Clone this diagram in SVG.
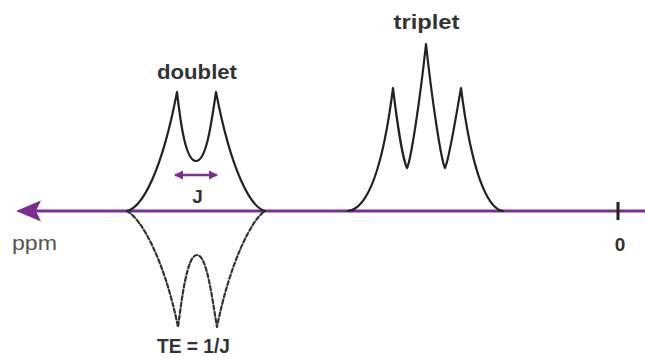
<svg xmlns="http://www.w3.org/2000/svg" width="645" height="358" viewBox="0 0 645 358">
  <defs>
    <marker id="jhead" viewBox="0 0 10 10" refX="9" refY="5" markerWidth="9" markerHeight="10" markerUnits="userSpaceOnUse" orient="auto-start-reverse">
      <path d="M0,0 L10,5 L0,10 Z" fill="#7a2f8f"/>
    </marker>
    <style>
      .curve { fill: none; stroke: #222; stroke-width: 2.2; stroke-linejoin: round; stroke-linecap: round; }
      .dashed { stroke-dasharray: 4 2.5; stroke: #333; }
      .axis { stroke: #7a2f8f; stroke-width: 3; fill: none; }
      .lbl { font-family: "Liberation Sans", Arial, sans-serif; font-weight: bold; fill: #333; }
      .ppm { font-family: "Liberation Sans", Arial, sans-serif; fill: #555; }
    </style>
  </defs>
  <rect width="645" height="358" fill="#fff"/>

  <g id="connectors">
    <line class="axis" x1="30" y1="211" x2="645" y2="211"/>
    <path d="M16,211 L41,200.5 L36,211 L41,221.5 Z" fill="#7a2f8f"/>
    <line x1="175" y1="175" x2="217" y2="175" stroke="#7a2f8f" stroke-width="2.4" marker-start="url(#jhead)" marker-end="url(#jhead)"/>
  </g>

  <g id="doublet">
    <path class="curve" d="M127,211 C143,207 162,170 177,92 C180,118 185,161 196,161 C207,161 212,118 216,92 C231,170 250,207 265,211"/>
    <text class="lbl" x="197" y="79" font-size="21" text-anchor="middle" textLength="80" lengthAdjust="spacingAndGlyphs">doublet</text>
  </g>

  <g id="inverted-doublet">
    <path class="curve dashed" d="M127,211 C142,219 165,262 178,327 C182,298 187,255 197,255 C207,255 212,298 217,327 C230,262 252,219 265,211"/>
    <text class="lbl" x="193.5" y="353" font-size="20" text-anchor="middle" textLength="73" lengthAdjust="spacingAndGlyphs">TE = 1/J</text>
  </g>

  <g id="triplet">
    <path class="curve" d="M348,211 C366,209 382,175 393,88 C397,122 403,160 407,168 C411,160 420,100 426,44 C432,100 441,160 445,168 C449,160 455,122 461,88 C472,175 488,209 503,211"/>
    <text class="lbl" x="426.5" y="29" font-size="21" text-anchor="middle" textLength="66" lengthAdjust="spacingAndGlyphs">triplet</text>
  </g>

  <g id="coupling-label">
    <text class="lbl" x="197.5" y="203" font-size="19" text-anchor="middle">J</text>
  </g>

  <g id="ppm-label">
    <text class="ppm" x="12" y="250" font-size="21" textLength="45" lengthAdjust="spacingAndGlyphs">ppm</text>
  </g>

  <g id="zero-tick">
    <line x1="618" y1="202" x2="618" y2="220" stroke="#222" stroke-width="3"/>
    <text class="lbl" x="620" y="251" font-size="19" text-anchor="middle">0</text>
  </g>
</svg>
